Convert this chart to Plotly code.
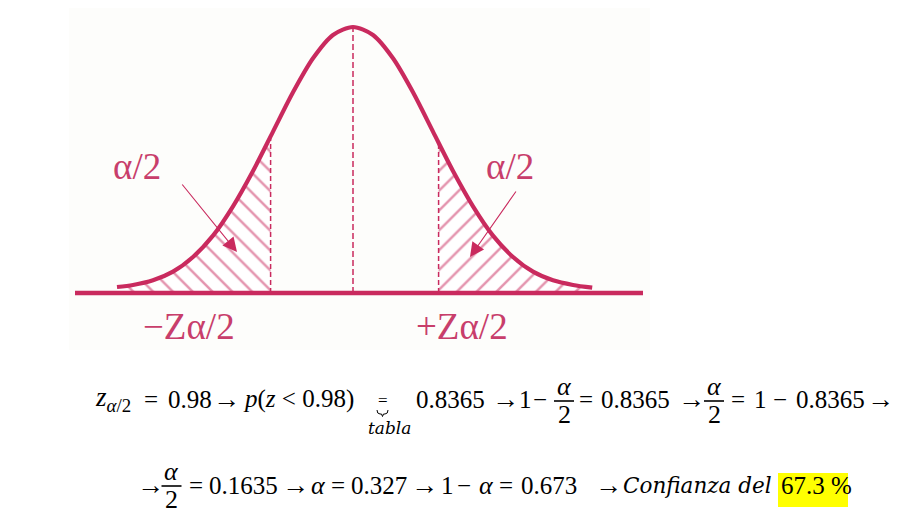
import numpy as np
import plotly.graph_objects as go

W, H = 910, 520
OFF = 8  # page body margin of the html page
CRIMSON = "#C92A5E"
LABEL = "#C83E6B"
MATH = "Liberation Serif"
ITAL = "DejaVu Serif"

# ---- data (z units, density) ----
z_curve = [-2.95, -2.75, -2.5, -2.25, -2.0, -1.75, -1.5, -1.25, -1.0, -0.75, -0.5, -0.25,
           0.0, 0.25, 0.5, 0.75, 1.0, 1.25, 1.5, 1.75, 2.0, 2.25, 2.5, 2.75, 2.99]
density = [0.009, 0.012, 0.019, 0.032, 0.054, 0.086, 0.130, 0.183, 0.242, 0.301, 0.352, 0.387,
           0.399, 0.387, 0.352, 0.301, 0.242, 0.183, 0.130, 0.086, 0.054, 0.032, 0.019, 0.012, 0.008]
z_crit = [-1.03, 1.07]          # -Z alpha/2, +Z alpha/2
axis_extent = [-3.475, 3.625]   # extent of the horizontal axis line
tail_labels = ["α/2", "α/2"]
crit_labels = ["−Zα/2", "+Zα/2"]

zc = np.array(z_curve)
dc = np.array(density)
peak = dc.max()

# pixel <-> data mapping (reference pixel coordinates)
X0, SX = 353.0, 80.0
Y0, SY = 293.0, peak / 266.0
xr = [(OFF - X0) / SX, (W + OFF - X0) / SX]
yr = [(Y0 - (H + OFF)) * SY, (Y0 - OFF) * SY]

fig = go.Figure()

# hatched tails
for side in (0, 1):
    zc_ = z_crit[side]
    dcut = float(np.interp(zc_, zc, dc))
    if side == 0:
        m = zc < zc_
        xs = list(zc[m]) + [zc_]
        ys = list(dc[m]) + [dcut]
        shape = "\\"
    else:
        m = zc > zc_
        xs = [zc_] + list(zc[m])
        ys = [dcut] + list(dc[m])
        shape = "/"
    fig.add_trace(go.Scatter(
        x=xs, y=ys, mode="lines", line=dict(width=0, shape="spline", color=CRIMSON),
        fill="tozeroy", fillcolor="white",
        fillpattern=dict(shape=shape, fgcolor=CRIMSON, bgcolor="white", size=14, solidity=0.18),
        hoverinfo="skip", showlegend=False))
    fig.add_trace(go.Scatter(
        x=[zc_, zc_], y=[0, dcut], mode="lines",
        line=dict(color=CRIMSON, width=1.5, dash="5px,3px"),
        hoverinfo="skip", showlegend=False))

# centre dashed line
fig.add_trace(go.Scatter(
    x=[0, 0], y=[0, peak], mode="lines",
    line=dict(color=CRIMSON, width=1.5, dash="6px,3px"),
    hoverinfo="skip", showlegend=False))

# axis line
fig.add_trace(go.Scatter(
    x=axis_extent, y=[0, 0], mode="lines",
    line=dict(color=CRIMSON, width=4.5), hoverinfo="skip", showlegend=False))

# the curve
fig.add_trace(go.Scatter(
    x=z_curve, y=density, mode="lines",
    line=dict(color=CRIMSON, width=4.2, shape="spline", smoothing=0.8),
    hoverinfo="skip", showlegend=False))

ann = []
shapes = []


def px(x):
    return (x - OFF) / W


def py(y):
    return 1 - (y - OFF) / H


def T(x, y, s, size=25, anchor="left", color="black", family=MATH):
    ann.append(dict(x=px(x), y=py(y), xref="paper", yref="paper", text=s, showarrow=False,
                    xanchor=anchor, yanchor="middle", borderpad=0,
                    font=dict(family=family, size=size, color=color)))


def bar(x0, x1, y):
    shapes.append(dict(type="line", xref="paper", yref="paper", x0=px(x0), x1=px(x1),
                       y0=py(y), y1=py(y), line=dict(color="black", width=1.6)))


def frac(xc, ybar):
    T(xc, ybar - 15, "<i>α</i>", size=26, anchor="center")
    bar(xc - 10, xc + 10, ybar)
    T(xc, ybar + 13, "2", size=26, anchor="center")


# panel background
shapes.append(dict(type="rect", xref="paper", yref="paper", x0=px(69), x1=px(650),
                   y0=py(350), y1=py(5), fillcolor="#FDFDFB", line=dict(width=0), layer="below"))

# labels on the diagram
T(137, 166, tail_labels[0], size=37, anchor="center", color=LABEL)
T(510, 166, tail_labels[1], size=37, anchor="center", color=LABEL)
T(189, 326, crit_labels[0], size=37, anchor="center", color=LABEL)
T(462, 326, crit_labels[1], size=37, anchor="center", color=LABEL)

# arrows
for head, tail in (((237, 252), (181, 183)), ((470, 257), (517, 190))):
    ann.append(dict(x=px(head[0]), y=py(head[1]), xref="paper", yref="paper", text="",
                    showarrow=True, ax=tail[0] - head[0], ay=tail[1] - head[1],
                    arrowhead=2, arrowsize=2.6, arrowwidth=1.1, arrowcolor=CRIMSON))

# ---- line 1 ----
L1 = 399
AR = 27
T(94, L1, "<i>z</i><sub><i>α</i>/2</sub>", size=27)
T(143, L1, "=")
T(167, L1, "0.98")
T(212, L1, "→", size=AR)
T(242, L1, "<i>p</i>(<i>z</i> &lt; 0.98)")
T(382.5, L1 + 1, "=", size=17, anchor="center")
shapes.append(dict(type="path", xref="paper", yref="paper",
                   path="M {a},{b} Q {a},{c} {d},{c} L {e},{c} L {f},{g} L {h},{c} L {i},{c} Q {j},{c} {j},{b}".format(
                       a=px(377), b=py(410), c=py(414), d=px(380), e=px(381.5), f=px(382.5),
                       g=py(416.5), h=px(383.5), i=px(385), j=px(388)),
                   line=dict(color="black", width=1)))
T(389.5, 428, "<i>tabla</i>", size=17, anchor="center", family=ITAL)
T(415, L1, "0.8365")
T(491, L1, "→", size=AR)
T(518, L1, "1")
T(532, L1, "−")
frac(564, 401)
T(578, L1, "=")
T(600, L1, "0.8365")
T(677, L1, "→", size=AR)
frac(714, 401)
T(730, L1, "=")
T(753, L1, "1")
T(772, L1, "−")
T(795, L1, "0.8365")
T(866, L1, "→", size=AR)

# ---- line 2 ----
L2 = 485
shapes.append(dict(type="rect", xref="paper", yref="paper", x0=px(778), x1=px(848),
                   y0=py(507), y1=py(473), fillcolor="#FFFF00", line=dict(width=0), layer="below"))
T(136, L2, "→", size=AR)
frac(171.5, 486)
T(188, L2, "=")
T(208, L2, "0.1635")
T(281, L2, "→", size=AR)
T(310, L2, "<i>α</i>", size=26)
T(330, L2, "=")
T(350, L2, "0.327")
T(410, L2, "→", size=AR)
T(440, L2, "1")
T(456, L2, "−")
T(478, L2, "<i>α</i>", size=26)
T(498, L2, "=")
T(520, L2, "0.673")
T(594, L2, "→", size=AR)
T(622, L2, "<i>Confianza del</i>", size=21.5, family=ITAL)
T(780, L2, "67.3 %")

fig.update_layout(
    width=W, height=H, margin=dict(l=0, r=0, t=0, b=0),
    paper_bgcolor="white", plot_bgcolor="rgba(0,0,0,0)",
    xaxis=dict(range=xr, visible=False, fixedrange=True, domain=[0, 1]),
    yaxis=dict(range=yr, visible=False, fixedrange=True, domain=[0, 1]),
    annotations=ann, shapes=shapes, showlegend=False,
)

fig.write_html("out.html")
